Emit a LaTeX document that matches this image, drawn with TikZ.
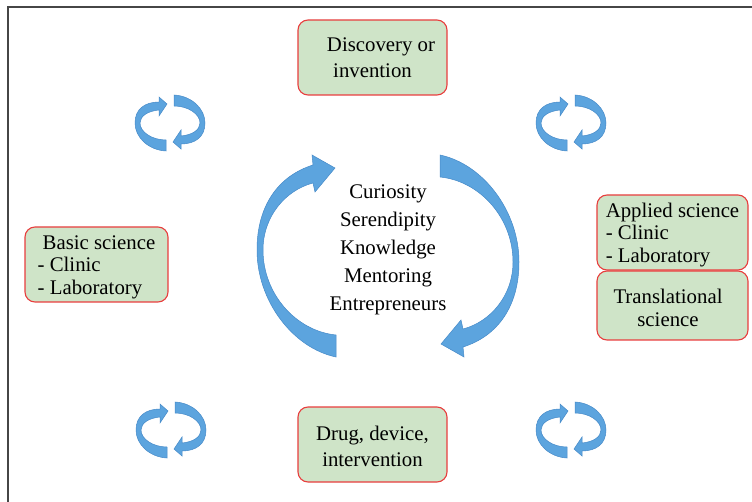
\documentclass[tikz,border=0pt]{standalone}
\usepackage{fontspec}
\setmainfont{Liberation Serif}
\begin{document}
\definecolor{boxfill}{RGB}{207,228,200}
\definecolor{boxline}{RGB}{232,62,62}
\definecolor{arrowfill}{RGB}{92,164,222}
\definecolor{arrowedge}{RGB}{70,138,200}
\definecolor{framegray}{RGB}{70,70,70}
\newcommand{\toppad}{\rule{0pt}{19pt}}
\tikzset{
  stage/.style={draw=boxline, fill=boxfill, line width=1.1pt, rounded corners=10pt,
    inner sep=0pt, font={\fontsize{20.8}{22.5}\selectfont}},
  widelines/.style={font={\fontsize{20.8}{26}\selectfont}},
  ribbon/.style={fill=arrowfill, draw=arrowedge, line width=0.5pt},
  % one curled arrow of a small circling pair, centred on the pic origin
  halfcurl/.pic={
    \path[ribbon] (-4,28) .. controls (-22,27) and (-35,14) .. (-35,0)
      .. controls (-35,-14) and (-25,-21) .. (-11,-21)
      -- (-11,-26) -- (-3,-19) -- (-11,-7) -- (-11,-13)
      .. controls (-22,-12) and (-30,-7) .. (-30,0)
      .. controls (-30,9) and (-18,17) .. (-4,17) -- cycle;
  },
  cyclepair/.pic={
    \pic {halfcurl};
    \pic[rotate=180] {halfcurl};
  },
  % one half of the large central cycle
  bighalf/.pic={
    \path[ribbon] (-52,101) .. controls (-95,92) and (-131,45) .. (-131,-6)
      .. controls (-131,-50) and (-110,-80) .. (-75,-91)
      -- (-76,-101) -- (-53,-88) -- (-73,-64) -- (-75,-73)
      .. controls (-102,-66) and (-125,-40) .. (-125,-6)
      .. controls (-125,38) and (-92,75) .. (-52,79) -- cycle;
  }
}
\begin{tikzpicture}[x=1pt,y=-1pt]
  \useasboundingbox (0,0) rectangle (752,502);

  % outer frame (top and left edges)
  \draw[framegray, line width=1.5pt] (8,502) -- (8,7) -- (752,7);

  % stage boxes
  \node[stage, widelines, minimum width=149pt, minimum height=75pt, align=center]
    (discovery) at (372.5,57.5) {\hspace*{17pt}Discovery or\\invention};
  \node[stage, minimum width=143pt, minimum height=75pt, align=left]
    (basic) at (96.5,264.5) {\toppad\hspace*{5pt}Basic science\\- Clinic\\- Laboratory};
  \node[stage, minimum width=151pt, minimum height=75pt, align=left]
    (applied) at (672.5,232.5) {\toppad Applied science\\- Clinic\\- Laboratory};
  \node[stage, minimum width=151pt, minimum height=69pt, align=center]
    (translational) at (672.5,305.5) {\toppad Translational\hspace*{9pt}\\science\hspace*{9pt}};
  \node[stage, widelines, minimum width=149pt, minimum height=75pt, align=center]
    (drug) at (372.5,444.5) {\toppad Drug, device,\\intervention};

  % large central cycle
  \coordinate (hub) at (388,256);
  \pic at (hub) {bighalf};
  \pic[rotate=180] at (hub) {bighalf};
  \node[align=center, font={\fontsize{20.8}{28}\selectfont}] (drivers) at (388,250)
    {Curiosity\\Serendipity\\Knowledge\\Mentoring\\Entrepreneurs};

  % small cycles between the stages
  \coordinate (cycleNW) at (170,123);
  \coordinate (cycleNE) at (571,123);
  \coordinate (cycleSW) at (171,430);
  \coordinate (cycleSE) at (571,430);
  \pic at (cycleNW) {cyclepair};
  \pic at (cycleNE) {cyclepair};
  \pic at (cycleSW) {cyclepair};
  \pic at (cycleSE) {cyclepair};
\end{tikzpicture}
\end{document}
